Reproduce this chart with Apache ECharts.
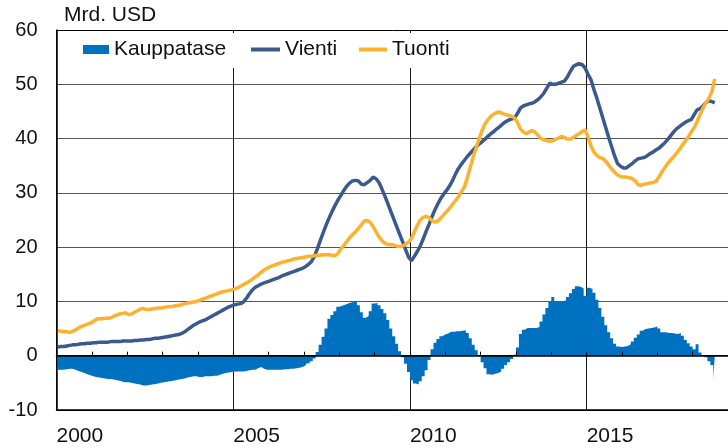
<!DOCTYPE html>
<html>
<head>
<meta charset="utf-8">
<script src="https://cdn.jsdelivr.net/npm/echarts@6/dist/echarts.min.js"></script>
<style>
html,body{margin:0;padding:0;background:#fff;}
#chart{width:728px;height:448px;}
</style>
</head>
<body>
<div id="chart"></div>
<script>
// Monthly data, January 2000 – August 2018 (Mrd. USD)
const startYear = 2000;
const seriesNames = ['Kauppatase', 'Vienti', 'Tuonti'];
const unitLabel = 'Mrd. USD';
const xTickLabels = ['2000', '2005', '2010', '2015'];
const yTicks = [-10, 0, 10, 20, 30, 40, 50, 60];

const kauppatase = [
  -2.6,-2.6,-2.6,-2.5,-2.4,-2.4,-2.6,-2.8,-3.0,-3.2,-3.4,-3.6,
  -3.8,-3.9,-4.0,-4.1,-4.2,-4.3,-4.3,-4.4,-4.5,-4.6,-4.8,-4.9,
  -4.9,-5.0,-5.1,-5.2,-5.3,-5.5,-5.5,-5.4,-5.3,-5.2,-5.1,-5.0,
  -4.9,-4.8,-4.7,-4.6,-4.5,-4.4,-4.3,-4.2,-4.0,-3.9,-3.8,-3.8,
  -3.9,-3.9,-3.8,-3.8,-3.8,-3.7,-3.7,-3.5,-3.3,-3.2,-3.1,-3.0,
  -2.9,-2.9,-2.9,-2.9,-2.8,-2.7,-2.6,-2.6,-2.3,-2.1,-2.4,-2.6,
  -2.6,-2.6,-2.6,-2.6,-2.6,-2.5,-2.5,-2.4,-2.4,-2.3,-2.2,-2.1,
  -1.8,-1.4,-1.0,-0.5,0.7,2.0,3.5,5.0,6.8,7.5,8.2,9.0,
  9.2,9.4,9.6,9.8,9.9,10.0,9.3,8.0,7.0,7.3,8.2,9.6,
  9.7,9.3,8.6,7.8,6.6,5.0,3.6,2.2,0.8,-0.3,-1.5,-3.0,
  -4.5,-5.1,-5.3,-4.7,-3.8,-2.7,-0.8,1.2,2.4,3.1,3.6,3.9,
  4.1,4.4,4.4,4.5,4.5,4.6,4.7,4.2,3.2,2.0,1.0,0.1,
  -1.2,-2.3,-3.4,-3.5,-3.3,-3.2,-2.9,-2.4,-1.7,-1.2,-0.6,0.2,
  1.5,4.0,4.8,5.1,5.1,5.1,5.1,5.3,6.3,7.6,8.8,10.0,
  10.8,10.0,10.0,10.0,10.2,10.8,11.5,12.3,12.8,12.7,12.4,11.0,
  12.5,12.3,11.6,10.3,8.8,7.2,5.6,4.3,3.2,2.2,1.7,1.6,
  1.7,1.8,2.1,2.6,3.3,3.9,4.6,4.9,5.0,5.1,5.2,5.4,
  5.0,4.3,4.3,4.2,4.2,4.1,4.0,4.2,3.7,2.9,2.3,1.7,
  1.2,2.1,0.6,0.1,-0.3,-1.0,-1.7,-4.4
];

const vienti = [
  1.6,1.7,1.7,1.8,1.9,2.0,2.0,2.1,2.2,2.2,2.3,2.3,
  2.4,2.4,2.5,2.5,2.5,2.5,2.6,2.6,2.6,2.6,2.7,2.7,
  2.7,2.7,2.8,2.8,2.9,2.9,3.0,3.0,3.1,3.2,3.2,3.3,
  3.4,3.5,3.6,3.7,3.8,3.9,4.1,4.4,4.8,5.2,5.6,5.9,
  6.2,6.4,6.6,6.9,7.2,7.5,7.8,8.1,8.4,8.7,9.0,9.2,
  9.4,9.5,9.6,9.9,10.6,11.4,12.1,12.6,12.9,13.2,13.4,13.6,
  13.8,14.0,14.2,14.4,14.7,14.9,15.1,15.3,15.5,15.7,15.9,16.1,
  16.4,16.8,17.3,18.2,19.6,21.1,22.6,24.0,25.3,26.5,27.6,28.6,
  29.5,30.4,31.2,31.8,32.2,32.3,32.2,31.6,31.5,31.9,32.3,32.9,
  32.6,31.9,30.7,29.4,28.0,26.6,25.2,23.8,22.4,21.0,19.6,18.2,
  17.5,18.3,19.2,20.2,21.5,22.9,24.2,25.6,26.9,28.0,29.0,29.8,
  30.5,31.3,32.3,33.5,34.5,35.3,36.0,36.7,37.3,37.9,38.5,39.0,
  39.4,39.9,40.4,40.9,41.3,41.8,42.2,42.7,43.1,43.4,43.6,43.8,
  44.6,45.6,46.0,46.2,46.4,46.5,46.8,47.2,47.7,48.4,49.3,50.2,
  50.0,50.0,50.2,50.4,50.6,51.4,52.4,53.3,53.6,53.8,53.6,53.0,
  51.8,50.8,49.0,47.4,45.6,43.8,42.0,40.2,38.5,36.8,35.4,34.9,
  34.6,34.6,35.0,35.4,35.9,36.3,36.4,36.5,36.8,37.2,37.5,37.9,
  38.2,38.7,39.2,39.8,40.5,41.2,41.8,42.2,42.6,43.0,43.3,43.5,
  44.4,45.3,45.5,46.0,46.6,47.0,46.8,46.6
];

const tuonti = [
  4.6,4.5,4.4,4.4,4.3,4.5,4.8,5.1,5.4,5.6,5.8,6.0,
  6.3,6.7,6.8,6.8,6.9,6.9,7.0,7.3,7.5,7.7,7.8,7.9,
  7.6,7.7,8.0,8.3,8.6,8.7,8.5,8.5,8.6,8.7,8.8,8.8,
  8.9,9.0,9.0,9.1,9.2,9.3,9.4,9.6,9.7,9.8,9.9,10.0,
  10.2,10.4,10.6,10.8,11.0,11.2,11.4,11.6,11.8,11.9,12.0,12.1,
  12.3,12.5,12.8,13.1,13.4,13.7,14.1,14.5,14.9,15.4,15.8,16.1,
  16.4,16.6,16.8,17.0,17.2,17.3,17.5,17.6,17.8,17.9,18.0,18.1,
  18.2,18.3,18.3,18.4,18.5,18.5,18.6,18.6,18.6,18.5,18.4,18.8,
  19.6,20.3,21.0,21.7,22.3,22.8,23.4,24.1,24.8,24.9,24.6,23.8,
  22.8,21.9,21.2,20.7,20.5,20.5,20.4,20.2,20.1,20.2,20.5,20.9,
  21.6,22.8,24.0,25.0,25.5,25.7,25.4,24.9,24.6,24.8,25.4,26.0,
  26.6,27.2,27.9,28.6,29.3,30.2,31.1,32.8,34.7,36.6,38.3,40.0,
  41.5,42.7,43.5,44.1,44.5,44.8,44.9,44.6,44.4,44.3,44.1,43.8,
  43.0,41.8,41.2,40.9,41.2,41.5,41.2,40.6,40.0,39.8,39.6,39.5,
  39.6,39.9,40.1,40.4,40.2,39.9,39.9,40.2,40.6,40.9,41.3,41.6,
  40.2,38.6,37.5,36.9,36.5,36.3,35.8,35.1,34.4,33.8,33.3,33.0,
  32.9,32.9,32.8,32.6,32.2,31.5,31.4,31.6,31.7,31.8,31.9,32.1,
  32.9,33.8,34.6,35.4,36.0,36.6,37.3,38.0,38.8,39.5,40.3,41.2,
  42.0,43.1,44.4,45.6,46.6,47.4,48.6,51.0
];

const monthX = i => startYear + (i + 0.5) / 12;
const pairs = arr => arr.map((v, i) => [monthX(i), v]);

const FONT = "'Liberation Sans', Arial, sans-serif";
const C_BAR = '#0070c0', C_VIE = '#3a5a8e', C_TUO = '#fdb22f';
const X_MAX = 2019;

const chart = echarts.init(document.getElementById('chart'), null, {renderer: 'canvas'});

const legendCommon = {
  orient: 'horizontal', padding: 0, itemGap: 0, icon: 'rect',
  textStyle: {fontFamily: FONT, fontSize: 21, color: '#111'},
  selectedMode: false
};

// grid 0: full plot (-10..60); grid 1: overlay 0..60 whose bottom axis is the zero line with yearly ticks
const GRID_TOP = 30, GRID_H = 380, GRID_LEFT = 56.5, GRID_W = 674.5;
const zeroFrac = (yTicks[yTicks.length - 1] - 0) / (yTicks[yTicks.length - 1] - yTicks[0]);

chart.setOption({
  animation: false,
  backgroundColor: '#fff',
  textStyle: {fontFamily: FONT},
  title: {
    text: unitLabel, left: 64, top: 5, padding: 0,
    textStyle: {fontFamily: FONT, fontSize: 21, fontWeight: 'normal', color: '#111'}
  },
  grid: [
    {left: GRID_LEFT, top: GRID_TOP, width: GRID_W, height: GRID_H, containLabel: false},
    {left: GRID_LEFT, top: GRID_TOP, width: GRID_W, height: GRID_H * zeroFrac, containLabel: false}
  ],
  graphic: [{
    type: 'rect', z: 1, silent: true,
    shape: {x: 60, y: 33, width: 400, height: 35},
    style: {fill: '#fff'}
  }],
  legend: [
    Object.assign({}, legendCommon, {data: [{name: seriesNames[0], itemStyle: {color: C_BAR}}], left: 83, top: 39, itemWidth: 26, itemHeight: 9}),
    Object.assign({}, legendCommon, {data: [seriesNames[1]], left: 251, top: 39, itemWidth: 29, itemHeight: 4}),
    Object.assign({}, legendCommon, {data: [seriesNames[2]], left: 359, top: 39, itemWidth: 28, itemHeight: 4})
  ],
  xAxis: [{
    gridIndex: 0, type: 'value', min: startYear, max: X_MAX, interval: 5,
    position: 'bottom',
    axisLine: {show: true, onZero: false, lineStyle: {color: '#000', width: 1.5}},
    axisTick: {show: false},
    axisLabel: {
      show: true, align: 'left', margin: 16, showMaxLabel: false,
      fontFamily: FONT, fontSize: 21, color: '#111',
      formatter: v => xTickLabels.indexOf(String(v)) >= 0 ? String(v) : ''
    },
    splitLine: {show: true, lineStyle: {color: '#1a1a1a', width: 1}}
  }, {
    gridIndex: 1, type: 'value', min: startYear, max: X_MAX, interval: 1,
    position: 'bottom', z: 5,
    axisLine: {show: true, onZero: false, lineStyle: {color: '#000', width: 1.5}},
    axisTick: {show: true, inside: true, length: 4, lineStyle: {color: '#000', width: 1}},
    axisLabel: {show: false},
    splitLine: {show: false}
  }],
  yAxis: [{
    gridIndex: 0, type: 'value', min: yTicks[0], max: yTicks[yTicks.length - 1], interval: 10,
    axisLine: {show: true, lineStyle: {color: '#000', width: 1.5}},
    axisTick: {show: false},
    axisLabel: {margin: 19, fontFamily: FONT, fontSize: 20, color: '#111'},
    splitLine: {show: true, lineStyle: {color: ['#000', '#000', '#555', '#555', '#555', '#555', '#555', '#000'], width: 1}}
  }, {
    gridIndex: 1, type: 'value', min: 0, max: yTicks[yTicks.length - 1], interval: 10,
    show: false
  }],
  series: [{
    // monthly columns drawn as a stepped area (one flat step per month)
    name: seriesNames[0], type: 'line', step: 'middle', xAxisIndex: 0, yAxisIndex: 0,
    data: pairs(kauppatase), symbol: 'none', showSymbol: false,
    lineStyle: {width: 0, color: C_BAR},
    areaStyle: {color: C_BAR, opacity: 1, origin: 0},
    itemStyle: {color: C_BAR}, z: 2
  }, {
    name: seriesNames[1], type: 'line', xAxisIndex: 0, yAxisIndex: 0,
    data: pairs(vienti), symbol: 'none', showSymbol: false,
    lineStyle: {color: C_VIE, width: 3.5}, itemStyle: {color: C_VIE}, z: 3
  }, {
    name: seriesNames[2], type: 'line', xAxisIndex: 0, yAxisIndex: 0,
    data: pairs(tuonti), symbol: 'none', showSymbol: false,
    lineStyle: {color: C_TUO, width: 3.5}, itemStyle: {color: C_TUO}, z: 4
  }]
});
</script>
</body>
</html>
